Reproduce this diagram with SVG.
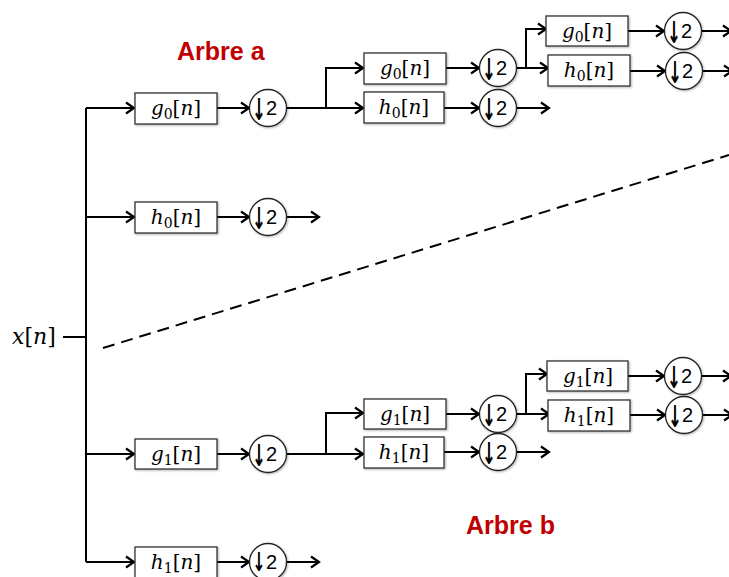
<svg xmlns="http://www.w3.org/2000/svg" width="729" height="577" viewBox="0 0 729 577">
<defs>
<marker id="arr" markerUnits="userSpaceOnUse" markerWidth="14" markerHeight="14" viewBox="0 0 14 14" refX="12" refY="7" orient="auto">
<path d="M4,1.5 L12,7 L4,12.5" fill="none" stroke="#000" stroke-width="2.2" stroke-linejoin="miter"/>
</marker>
<filter id="sh" x="-10%" y="-20%" width="130%" height="150%">
<feDropShadow dx="1" dy="1" stdDeviation="0.8" flood-color="#000" flood-opacity="0.3"/>
</filter>
</defs>
<style>
.w{fill:none;stroke:#000;stroke-width:2}
.a{marker-end:url(#arr)}
.box{fill:#fff;stroke:#333;stroke-width:1.3;filter:url(#sh)}
.cir{fill:#fff;stroke:#222;stroke-width:1.3;filter:url(#sh)}
.m{font-family:'DejaVu Serif',serif;font-size:20px;fill:#000;font-weight:normal}
.i{font-style:italic}
.s{font-size:14px}
.dn{font-family:'DejaVu Sans',sans-serif;font-weight:bold;font-size:30px;fill:#000}
.two{font-family:'Liberation Sans',sans-serif;font-size:20px;fill:#000}
.title{font-family:'Liberation Sans',sans-serif;font-weight:bold;font-size:25px;fill:#C00000}
</style>

<g id="connectors">
<path class="w" d="M63,337 H86"/>
<path class="w" d="M86,108 V562"/>
<path class="w a" d="M86,108 H134"/>
<path class="w a" d="M86,217 H134"/>
<path class="w a" d="M86,454 H134"/>
<path class="w a" d="M86,562 H134"/>
<path class="w a" d="M217,108 H249"/>
<path class="w a" d="M217,217 H249"/>
<path class="w a" d="M217,454 H249"/>
<path class="w a" d="M217,562 H249"/>
<path class="w a" d="M287,108 H363"/>
<path class="w a" d="M326,108 V68 H363"/>
<path class="w a" d="M287,217 H319"/>
<path class="w a" d="M287,454 H363"/>
<path class="w a" d="M326,454 V413 H363"/>
<path class="w a" d="M287,562 H319"/>
<path class="w a" d="M446,68 H479"/>
<path class="w a" d="M444,108 H479"/>
<path class="w a" d="M517,68 H548"/>
<path class="w a" d="M526,68 V29 H546"/>
<path class="w a" d="M517,108 H549"/>
<path class="w a" d="M628,31 H664"/>
<path class="w a" d="M630,71 H665"/>
<path class="w a" d="M701,31 H731"/>
<path class="w a" d="M702,71 H732"/>
<path class="w a" d="M446,414 H479"/>
<path class="w a" d="M444,452 H479"/>
<path class="w a" d="M517,414 H549"/>
<path class="w a" d="M526,414 V374 H547"/>
<path class="w a" d="M517,452 H549"/>
<path class="w a" d="M628,376 H664"/>
<path class="w a" d="M630,415 H665"/>
<path class="w a" d="M701,376 H731"/>
<path class="w a" d="M702,415 H732"/>
<path d="M103,348 L729,155" fill="none" stroke="#000" stroke-width="2" stroke-dasharray="12,7"/>
</g>

<g id="input">
<text class="m" x="12" y="344" style="font-size:22px"><tspan class="i">x</tspan>[<tspan class="i">n</tspan>]</text>
</g>

<g id="titleA"><text class="title" x="177" y="60">Arbre a</text></g>
<g id="titleB"><text class="title" x="466" y="534">Arbre b</text></g>

<!-- Level 1 -->
<g id="L1_g0">
<rect class="box" x="135" y="93" width="82" height="31"/>
<text class="m" x="176" y="115" text-anchor="middle"><tspan class="i">g</tspan><tspan class="s" dy="4">0</tspan><tspan dy="-4">[</tspan><tspan class="i">n</tspan>]</text>
</g>
<g id="L1_g0_ds">
<circle class="cir" cx="268" cy="108" r="18.5"/>
<text class="dn" transform="translate(259,120) scale(0.55,1)" text-anchor="middle">↓</text><text class="two" x="266" y="115">2</text>
</g>
<g id="L1_h0">
<rect class="box" x="135" y="202" width="82" height="31"/>
<text class="m" x="176" y="224" text-anchor="middle"><tspan class="i">h</tspan><tspan class="s" dy="4">0</tspan><tspan dy="-4">[</tspan><tspan class="i">n</tspan>]</text>
</g>
<g id="L1_h0_ds">
<circle class="cir" cx="268" cy="217" r="18.5"/>
<text class="dn" transform="translate(259,229) scale(0.55,1)" text-anchor="middle">↓</text><text class="two" x="266" y="224">2</text>
</g>
<g id="L1_g1">
<rect class="box" x="135" y="439" width="82" height="30"/>
<text class="m" x="176" y="461" text-anchor="middle"><tspan class="i">g</tspan><tspan class="s" dy="4">1</tspan><tspan dy="-4">[</tspan><tspan class="i">n</tspan>]</text>
</g>
<g id="L1_g1_ds">
<circle class="cir" cx="268" cy="454" r="18.5"/>
<text class="dn" transform="translate(259,466) scale(0.55,1)" text-anchor="middle">↓</text><text class="two" x="266" y="461">2</text>
</g>
<g id="L1_h1">
<rect class="box" x="135" y="547" width="82" height="34"/>
<text class="m" x="176" y="569" text-anchor="middle"><tspan class="i">h</tspan><tspan class="s" dy="4">1</tspan><tspan dy="-4">[</tspan><tspan class="i">n</tspan>]</text>
</g>
<g id="L1_h1_ds">
<circle class="cir" cx="268" cy="562" r="18.5"/>
<text class="dn" transform="translate(259,571) scale(0.6,1)" style="font-size:26px" text-anchor="middle">↓</text><text class="two" x="266" y="569">2</text>
</g>

<!-- Level 2 top -->
<g id="L2a_g0">
<rect class="box" x="364" y="53" width="82" height="31"/>
<text class="m" x="405" y="75" text-anchor="middle"><tspan class="i">g</tspan><tspan class="s" dy="4">0</tspan><tspan dy="-4">[</tspan><tspan class="i">n</tspan>]</text>
</g>
<g id="L2a_g0_ds">
<circle class="cir" cx="498" cy="68" r="18.5"/>
<text class="dn" transform="translate(489,80) scale(0.55,1)" text-anchor="middle">↓</text><text class="two" x="496" y="75">2</text>
</g>
<g id="L2a_h0">
<rect class="box" x="364" y="92" width="80" height="31"/>
<text class="m" x="404" y="114" text-anchor="middle"><tspan class="i">h</tspan><tspan class="s" dy="4">0</tspan><tspan dy="-4">[</tspan><tspan class="i">n</tspan>]</text>
</g>
<g id="L2a_h0_ds">
<circle class="cir" cx="498" cy="108" r="18.5"/>
<text class="dn" transform="translate(489,120) scale(0.55,1)" text-anchor="middle">↓</text><text class="two" x="496" y="115">2</text>
</g>
<g id="L3a_g0">
<rect class="box" x="546" y="16" width="82" height="30"/>
<text class="m" x="587" y="38" text-anchor="middle"><tspan class="i">g</tspan><tspan class="s" dy="4">0</tspan><tspan dy="-4">[</tspan><tspan class="i">n</tspan>]</text>
</g>
<g id="L3a_g0_ds">
<circle class="cir" cx="683" cy="31" r="18.5"/>
<text class="dn" transform="translate(674,43) scale(0.55,1)" text-anchor="middle">↓</text><text class="two" x="681" y="38">2</text>
</g>
<g id="L3a_h0">
<rect class="box" x="548" y="55" width="82" height="31"/>
<text class="m" x="589" y="77" text-anchor="middle"><tspan class="i">h</tspan><tspan class="s" dy="4">0</tspan><tspan dy="-4">[</tspan><tspan class="i">n</tspan>]</text>
</g>
<g id="L3a_h0_ds">
<circle class="cir" cx="684" cy="71" r="18.5"/>
<text class="dn" transform="translate(675,83) scale(0.55,1)" text-anchor="middle">↓</text><text class="two" x="682" y="78">2</text>
</g>

<!-- Level 2 bottom -->
<g id="L2b_g1">
<rect class="box" x="364" y="399" width="82" height="30"/>
<text class="m" x="405" y="421" text-anchor="middle"><tspan class="i">g</tspan><tspan class="s" dy="4">1</tspan><tspan dy="-4">[</tspan><tspan class="i">n</tspan>]</text>
</g>
<g id="L2b_g1_ds">
<circle class="cir" cx="498" cy="414" r="18.5"/>
<text class="dn" transform="translate(489,426) scale(0.55,1)" text-anchor="middle">↓</text><text class="two" x="496" y="421">2</text>
</g>
<g id="L2b_h1">
<rect class="box" x="364" y="437" width="80" height="31"/>
<text class="m" x="404" y="459" text-anchor="middle"><tspan class="i">h</tspan><tspan class="s" dy="4">1</tspan><tspan dy="-4">[</tspan><tspan class="i">n</tspan>]</text>
</g>
<g id="L2b_h1_ds">
<circle class="cir" cx="498" cy="452" r="18.5"/>
<text class="dn" transform="translate(489,464) scale(0.55,1)" text-anchor="middle">↓</text><text class="two" x="496" y="459">2</text>
</g>
<g id="L3b_g1">
<rect class="box" x="547" y="361" width="81" height="30"/>
<text class="m" x="588" y="383" text-anchor="middle"><tspan class="i">g</tspan><tspan class="s" dy="4">1</tspan><tspan dy="-4">[</tspan><tspan class="i">n</tspan>]</text>
</g>
<g id="L3b_g1_ds">
<circle class="cir" cx="683" cy="376" r="18.5"/>
<text class="dn" transform="translate(674,388) scale(0.55,1)" text-anchor="middle">↓</text><text class="two" x="681" y="383">2</text>
</g>
<g id="L3b_h1">
<rect class="box" x="548" y="400" width="82" height="31"/>
<text class="m" x="589" y="422" text-anchor="middle"><tspan class="i">h</tspan><tspan class="s" dy="4">1</tspan><tspan dy="-4">[</tspan><tspan class="i">n</tspan>]</text>
</g>
<g id="L3b_h1_ds">
<circle class="cir" cx="684" cy="415" r="18.5"/>
<text class="dn" transform="translate(675,427) scale(0.55,1)" text-anchor="middle">↓</text><text class="two" x="682" y="422">2</text>
</g>
</svg>
